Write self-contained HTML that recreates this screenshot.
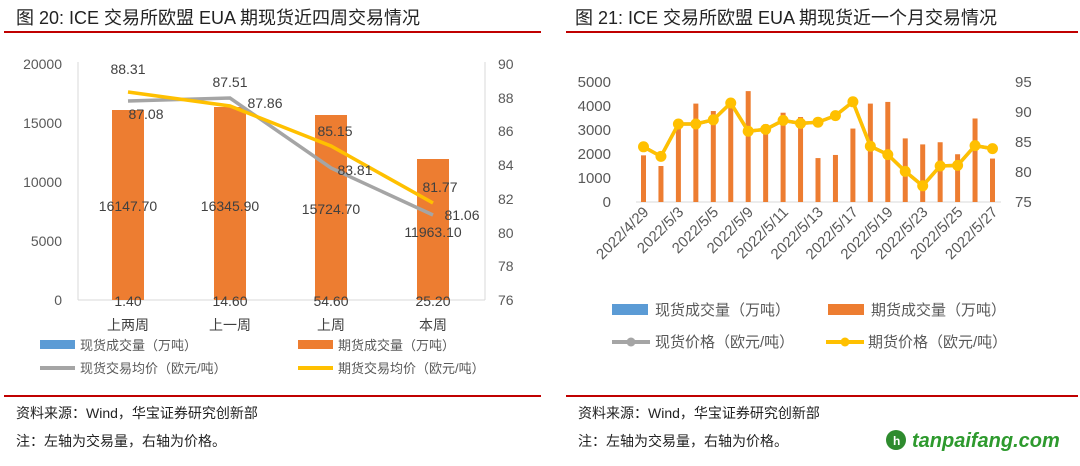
<!DOCTYPE html>
<html><head><meta charset="utf-8"><style>
body{margin:0;background:#fff;width:1080px;height:461px;overflow:hidden}
svg{font-family:"Liberation Sans","Noto Sans CJK SC",sans-serif}
</style></head><body>
<svg width="1080" height="461" viewBox="0 0 1080 461" xmlns="http://www.w3.org/2000/svg">
<text x="16" y="24" font-size="18" fill="#222">图 20:  ICE 交易所欧盟 EUA 期现货近四周交易情况</text>
<text x="575" y="24" font-size="18" fill="#222">图 21:  ICE 交易所欧盟 EUA 期现货近一个月交易情况</text>
<line x1="4" y1="32" x2="541" y2="32" stroke="#c00000" stroke-width="2"/>
<line x1="566" y1="32" x2="1078" y2="32" stroke="#c00000" stroke-width="2"/>

<g font-size="14" fill="#595959">
<line x1="78" y1="62" x2="78" y2="300" stroke="#d9d9d9"/>
<line x1="485" y1="62" x2="485" y2="300" stroke="#d9d9d9"/>
<line x1="78" y1="300" x2="485" y2="300" stroke="#d9d9d9"/>
<g text-anchor="end"><text x="62" y="69">20000</text><text x="62" y="128">15000</text><text x="62" y="187">10000</text><text x="62" y="246">5000</text><text x="62" y="305">0</text></g>
<g><text x="498" y="69">90</text><text x="498" y="103">88</text><text x="498" y="136">86</text><text x="498" y="170">84</text><text x="498" y="204">82</text><text x="498" y="238">80</text><text x="498" y="271">78</text><text x="498" y="305">76</text></g>
<g fill="#ed7d31"><rect x="112" y="110" width="32" height="190"/><rect x="214" y="107" width="32" height="193"/><rect x="315" y="115" width="32" height="185"/><rect x="417" y="159" width="32" height="141"/></g>
<polyline points="128,101 230,98 331,168 433,215" fill="none" stroke="#a5a5a5" stroke-width="3.5"/>
<polyline points="128,92 230,106 331,146 433,203" fill="none" stroke="#ffc000" stroke-width="3.5"/>
<g font-size="14" fill="#404040" text-anchor="middle">
<text x="128" y="74">88.31</text><text x="146" y="119">87.08</text><text x="230" y="87">87.51</text><text x="265" y="108">87.86</text>
<text x="335" y="136">85.15</text><text x="355" y="175">83.81</text><text x="440" y="192">81.77</text><text x="462" y="220">81.06</text>
<text x="128" y="211">16147.70</text><text x="230" y="211">16345.90</text><text x="331" y="214">15724.70</text><text x="433" y="237">11963.10</text>
<text x="128" y="306">1.40</text><text x="230" y="306">14.60</text><text x="331" y="306">54.60</text><text x="433" y="306">25.20</text>
<text x="128" y="330">上两周</text><text x="230" y="330">上一周</text><text x="331" y="330">上周</text><text x="433" y="330">本周</text>
</g>
<rect x="40" y="340" width="35" height="9" fill="#5b9bd5"/><text x="80" y="350" font-size="13">现货成交量（万吨）</text>
<rect x="298" y="340" width="35" height="9" fill="#ed7d31"/><text x="338" y="350" font-size="13">期货成交量（万吨）</text>
<line x1="40" y1="368" x2="75" y2="368" stroke="#a5a5a5" stroke-width="4"/><text x="80" y="373" font-size="13">现货交易均价（欧元/吨）</text>
<line x1="298" y1="368" x2="333" y2="368" stroke="#ffc000" stroke-width="4"/><text x="338" y="373" font-size="13">期货交易均价（欧元/吨）</text>
</g>

<g font-size="15" fill="#595959">
<line x1="636" y1="202" x2="1001" y2="202" stroke="#d9d9d9"/>
<g text-anchor="end"><text x="611" y="87">5000</text><text x="611" y="111">4000</text><text x="611" y="135">3000</text><text x="611" y="159">2000</text><text x="611" y="183">1000</text><text x="611" y="207">0</text></g>
<g><text x="1015" y="87">95</text><text x="1015" y="117">90</text><text x="1015" y="147">85</text><text x="1015" y="177">80</text><text x="1015" y="207">75</text></g>
<g fill="#ed7d31" id="bars"></g>
<polyline id="gl" fill="none" stroke="#a5a5a5" stroke-width="3.5"/>
<polyline id="yl" fill="none" stroke="#ffc000" stroke-width="3.5"/>
<g id="dots" fill="#ffc000"></g>
<g id="xl" font-size="15" text-anchor="end"></g>
<rect x="612" y="304" width="36" height="11" fill="#5b9bd5"/><text x="655" y="315" font-size="15">现货成交量（万吨）</text>
<rect x="828" y="304" width="36" height="11" fill="#ed7d31"/><text x="871" y="315" font-size="15">期货成交量（万吨）</text>
<line x1="612" y1="342" x2="650" y2="342" stroke="#a5a5a5" stroke-width="4"/><circle cx="631" cy="342" r="4.5" fill="#a5a5a5"/><text x="655" y="347" font-size="15">现货价格（欧元/吨）</text>
<line x1="826" y1="342" x2="864" y2="342" stroke="#ffc000" stroke-width="4"/><circle cx="845" cy="342" r="4.5" fill="#ffc000"/><text x="868" y="347" font-size="15">期货价格（欧元/吨）</text>
</g>

<line x1="4" y1="396" x2="541" y2="396" stroke="#c00000" stroke-width="2"/>
<line x1="566" y1="396" x2="1078" y2="396" stroke="#c00000" stroke-width="2"/>
<g font-size="14" fill="#222">
<text x="16" y="418">资料来源：Wind，华宝证券研究创新部</text>
<text x="16" y="446">注：左轴为交易量，右轴为价格。</text>
<text x="578" y="418">资料来源：Wind，华宝证券研究创新部</text>
<text x="578" y="446">注：左轴为交易量，右轴为价格。</text>
</g>
<circle cx="896" cy="440" r="10" fill="#2e8b2e"/><text x="893" y="445" font-size="12" fill="#fff" font-weight="bold">h</text>
<text x="912" y="447" font-size="20" font-weight="bold" font-style="italic" fill="#2e9a2e">tanpaifang.com</text>
</svg>
<script>
var v=[1944,1500,3300,4100,3790,3930,4620,3240,3720,3540,1830,1960,3060,4100,4170,2650,2400,2490,1990,3480,1810];
var p=[84.2,82.6,88,88,88.7,91.5,86.8,87.1,88.6,88.1,88.3,89.4,91.7,84.3,82.9,80.1,77.7,81,81.1,84.4,83.9];
var labs={0:"2022/4/29",2:"2022/5/3",4:"2022/5/5",6:"2022/5/9",8:"2022/5/11",10:"2022/5/13",12:"2022/5/17",14:"2022/5/19",16:"2022/5/23",18:"2022/5/25",20:"2022/5/27"};
var ns="http://www.w3.org/2000/svg",b=document.getElementById("bars"),d=document.getElementById("dots"),xl=document.getElementById("xl"),pts=[];
for(var i=0;i<21;i++){var x=643.5+i*17.45;var h=v[i]*0.024;var r=document.createElementNS(ns,"rect");r.setAttribute("x",x-2.5);r.setAttribute("y",202-h);r.setAttribute("width",5);r.setAttribute("height",h);b.appendChild(r);
var y=202-(p[i]-75)*6;pts.push(x+","+y);var c=document.createElementNS(ns,"circle");c.setAttribute("cx",x);c.setAttribute("cy",y);c.setAttribute("r",5.5);d.appendChild(c);
if(labs[i]){var t=document.createElementNS(ns,"text");t.setAttribute("transform","translate("+(x+6)+",213) rotate(-45)");t.textContent=labs[i];xl.appendChild(t);}}
document.getElementById("yl").setAttribute("points",pts.join(" "));
document.getElementById("gl").setAttribute("points",pts.join(" "));
</script>
</body></html>
